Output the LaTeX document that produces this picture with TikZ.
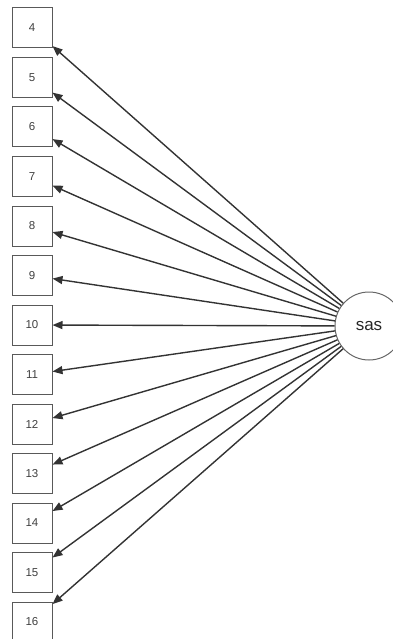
\documentclass[tikz,border=0pt]{standalone}
\usepackage{fontspec}
\setmainfont{Liberation Sans}
\usetikzlibrary{arrows.meta}
\begin{document}
\begin{tikzpicture}[x=1pt,y=-1pt,
  item/.style={draw=black!65,line width=1pt,minimum size=40pt,inner sep=0pt,font=\fontsize{11.5}{13}\selectfont,text=black!75},
  latent/.style={circle,draw=black!60,line width=1pt,minimum size=68pt,inner sep=0pt,font=\fontsize{17}{19}\selectfont,text=black!85},
  load/.style={draw=black!80,line width=1.4pt,-{Triangle[length=10pt,width=8pt]}}]
\useasboundingbox (0,0) rectangle (392,639);
\node[latent](sas) at (369,326){sas};
\foreach \i in {4,...,16}{\node[item](v\i) at (32,{28+(\i-4)*49.5}){\i};
\draw[load](sas)--(v\i);}
\end{tikzpicture}
\end{document}
